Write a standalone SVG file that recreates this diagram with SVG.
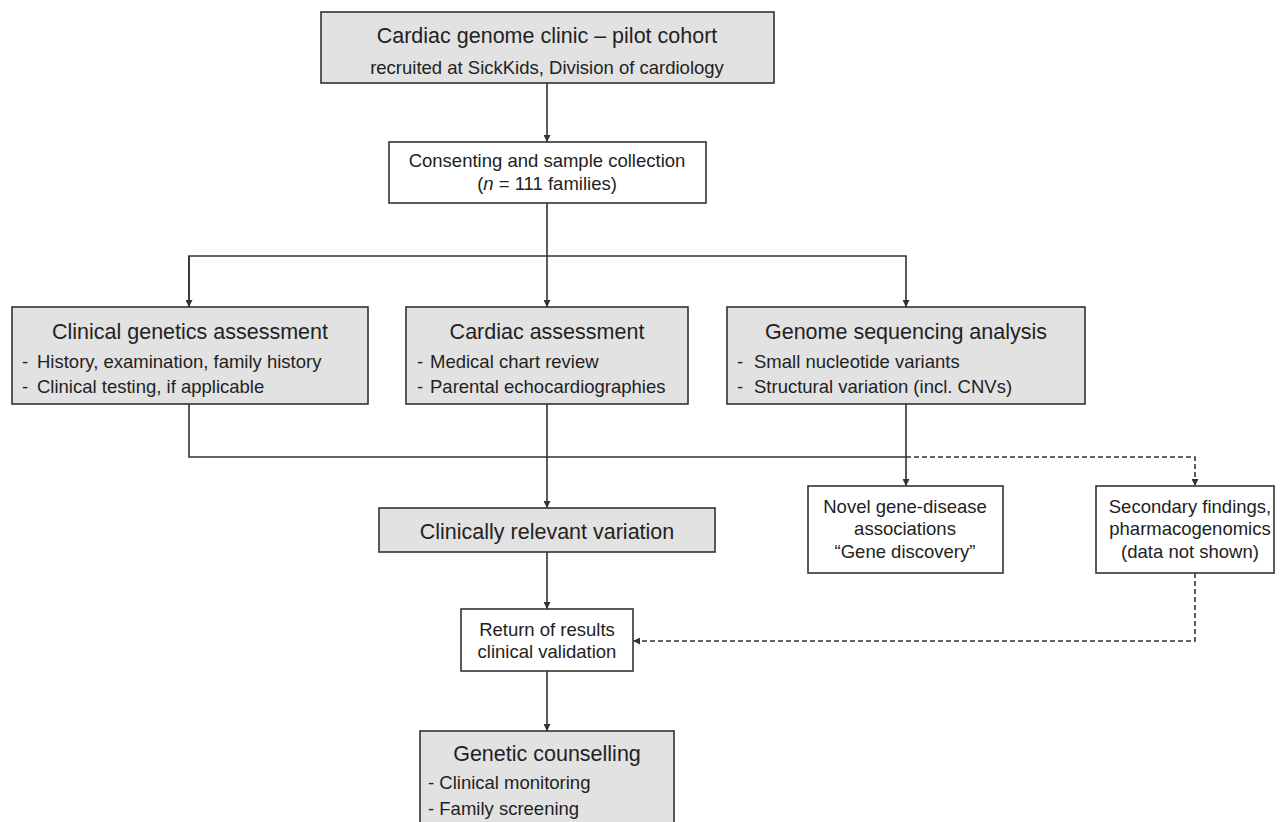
<svg xmlns="http://www.w3.org/2000/svg" width="1282" height="822" viewBox="0 0 1282 822">
<defs>
<style>
.box{stroke:#333;stroke-width:1.6;}
.g{fill:#e2e2e2;}
.w{fill:#fff;}
text{font-family:"Liberation Sans",Arial,sans-serif;fill:#222;}
.t{font-size:21.5px;}
.b{font-size:18.5px;}
.c{text-anchor:middle;}
.ln{fill:none;stroke:#333;stroke-width:1.6;}
.ds{stroke-dasharray:5 3;}
</style>
<marker id="ah" viewBox="0 0 10 10" refX="10" refY="5" markerWidth="7" markerHeight="7" markerUnits="userSpaceOnUse" orient="auto">
<path d="M0,0 L10,5 L0,10 z" fill="#333"/>
</marker>
</defs>
<rect width="1282" height="822" fill="#fff"/>

<g id="connectors">
<line class="ln" x1="547" y1="83" x2="547" y2="142" marker-end="url(#ah)"/>
<line class="ln" x1="547" y1="203" x2="547" y2="307" marker-end="url(#ah)"/>
<polyline class="ln" points="189,307 189,256 906,256 906,307" marker-end="url(#ah)"/>
<line class="ln" x1="189" y1="256" x2="189" y2="307" marker-end="url(#ah)"/>
<polyline class="ln" points="189,404 189,457 906,457"/>
<line class="ln" x1="547" y1="404" x2="547" y2="508" marker-end="url(#ah)"/>
<line class="ln" x1="906" y1="404" x2="906" y2="486" marker-end="url(#ah)"/>
<polyline class="ln ds" points="906,457 1195,457 1195,486" marker-end="url(#ah)"/>
<polyline class="ln ds" points="1195,573 1195,641 633,641" marker-end="url(#ah)"/>
<line class="ln" x1="547" y1="552" x2="547" y2="609" marker-end="url(#ah)"/>
<line class="ln" x1="547" y1="671" x2="547" y2="731" marker-end="url(#ah)"/>
</g>

<g id="cohort">
<rect class="box g" x="321" y="12" width="453" height="71"/>
<text class="t c" x="547" y="43">Cardiac genome clinic – pilot cohort</text>
<text class="b c" x="547" y="74">recruited at SickKids, Division of cardiology</text>
</g>

<g id="consenting">
<rect class="box w" x="389" y="142" width="317" height="61"/>
<text class="b c" x="547" y="167">Consenting and sample collection</text>
<text class="b c" x="547" y="190">(<tspan font-style="italic">n</tspan> = 111 families)</text>
</g>

<g id="clinical-genetics">
<rect class="box g" x="12" y="307" width="356" height="97"/>
<text class="t c" x="190" y="339">Clinical genetics assessment</text>
<text class="b" x="22" y="368">-</text>
<text class="b" x="37" y="368">History, examination, family history</text>
<text class="b" x="22" y="393">-</text>
<text class="b" x="37" y="393">Clinical testing, if applicable</text>
</g>

<g id="cardiac">
<rect class="box g" x="406" y="307" width="282" height="97"/>
<text class="t c" x="547" y="339">Cardiac assessment</text>
<text class="b" x="417" y="368">-</text>
<text class="b" x="430" y="368">Medical chart review</text>
<text class="b" x="417" y="393">-</text>
<text class="b" x="430" y="393">Parental echocardiographies</text>
</g>

<g id="genome">
<rect class="box g" x="727" y="307" width="358" height="97"/>
<text class="t c" x="906" y="339">Genome sequencing analysis</text>
<text class="b" x="737" y="368">-</text>
<text class="b" x="754" y="368">Small nucleotide variants</text>
<text class="b" x="737" y="393">-</text>
<text class="b" x="754" y="393">Structural variation (incl. CNVs)</text>
</g>

<g id="clinically-relevant">
<rect class="box g" x="379" y="508" width="336" height="44"/>
<text class="t c" x="547" y="539">Clinically relevant variation</text>
</g>

<g id="novel">
<rect class="box w" x="808" y="486" width="195" height="87"/>
<text class="b c" x="905" y="513">Novel gene-disease</text>
<text class="b c" x="905" y="535">associations</text>
<text class="b c" x="905" y="558">“Gene discovery”</text>
</g>

<g id="secondary">
<rect class="box w" x="1096" y="486" width="178" height="87"/>
<text class="b c" x="1190" y="513">Secondary findings,</text>
<text class="b c" x="1190" y="535">pharmacogenomics</text>
<text class="b c" x="1190" y="558">(data not shown)</text>
</g>

<g id="return">
<rect class="box w" x="461" y="609" width="172" height="62"/>
<text class="b c" x="547" y="636">Return of results</text>
<text class="b c" x="547" y="658">clinical validation</text>
</g>

<g id="counselling">
<rect class="box g" x="420" y="731" width="254" height="110"/>
<text class="t c" x="547" y="761">Genetic counselling</text>
<text class="b" x="428" y="789">- Clinical monitoring</text>
<text class="b" x="428" y="815">- Family screening</text>
</g>
</svg>
